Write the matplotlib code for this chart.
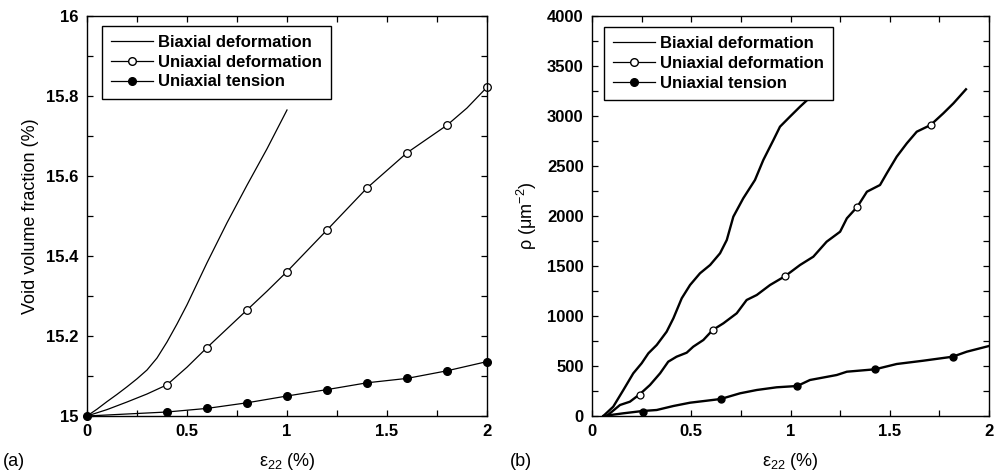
import matplotlib
matplotlib.use("Agg")
import matplotlib.pyplot as plt
from matplotlib.ticker import MultipleLocator
from matplotlib.lines import Line2D

plt.rcParams['font.family'] = ['Liberation Sans', 'DejaVu Sans']
plt.rcParams['mathtext.fontset'] = 'custom'
plt.rcParams['mathtext.rm'] = 'Liberation Sans'
plt.rcParams['mathtext.it'] = 'Liberation Sans:italic'

# ---------- panel (a) data ----------
a_bi_x = [0, 0.05, 0.1, 0.15, 0.2, 0.25, 0.3, 0.35, 0.4, 0.45, 0.5, 0.6, 0.7, 0.8, 0.9, 1.0]
a_bi_y = [15.0, 15.017, 15.036, 15.054, 15.073, 15.093, 15.115, 15.145, 15.185, 15.23, 15.278,
          15.383, 15.483, 15.577, 15.668, 15.765]

a_ud_x = [0, 0.1, 0.2, 0.3, 0.4, 0.5, 0.6, 0.7, 0.8, 0.9, 1.0, 1.2, 1.4, 1.6, 1.8, 1.9, 2.0]
a_ud_y = [15.0, 15.016, 15.035, 15.055, 15.078, 15.122, 15.171, 15.218, 15.265, 15.312, 15.361,
          15.465, 15.57, 15.658, 15.727, 15.77, 15.822]
a_ud_mx = [0.4, 0.6, 0.8, 1.0, 1.2, 1.4, 1.6, 1.8, 2.0]
a_ud_my = [15.078, 15.171, 15.265, 15.361, 15.465, 15.57, 15.658, 15.727, 15.822]

a_ut_x = [0, 0.2, 0.4, 0.6, 0.8, 1.0, 1.2, 1.4, 1.6, 1.8, 2.0]
a_ut_y = [15.0, 15.005, 15.01, 15.019, 15.033, 15.05, 15.066, 15.083, 15.094, 15.113, 15.136]
a_ut_mx = [0, 0.4, 0.6, 0.8, 1.0, 1.2, 1.4, 1.6, 1.8, 2.0]
a_ut_my = [15.0, 15.01, 15.019, 15.033, 15.05, 15.066, 15.083, 15.094, 15.113, 15.136]

# ---------- panel (b) data ----------
b_bi_x = [0.057, 0.107, 0.158, 0.208, 0.25, 0.284, 0.326, 0.376, 0.41, 0.452, 0.494, 0.544,
          0.595, 0.645, 0.679, 0.712, 0.762, 0.821, 0.863, 0.914, 0.947, 0.997, 1.048, 1.125]
b_bi_y = [0, 93, 260, 427, 527, 627, 710, 843, 977, 1177, 1310, 1427,
          1510, 1627, 1760, 1993, 2177, 2360, 2560, 2760, 2893, 2993, 3093, 3235]

b_ud_x = [0.074, 0.141, 0.191, 0.242, 0.292, 0.343, 0.384, 0.426, 0.477, 0.51, 0.561, 0.608,
          0.662, 0.729, 0.779, 0.83, 0.897, 0.974, 1.048, 1.115, 1.182, 1.25, 1.284, 1.337,
          1.385, 1.451, 1.485, 1.535, 1.586, 1.636, 1.706, 1.77, 1.821, 1.884]
b_ud_y = [0, 110, 143, 220, 310, 427, 543, 593, 633, 693, 760, 860,
          927, 1027, 1160, 1210, 1310, 1400, 1510, 1593, 1743, 1843, 1977, 2093,
          2243, 2310, 2427, 2593, 2727, 2843, 2910, 3027, 3127, 3267]
b_ud_mx = [0.242, 0.608, 0.974, 1.337, 1.706]
b_ud_my = [215, 860, 1400, 2093, 2910]

b_ut_x = [0.057, 0.158, 0.255, 0.326, 0.41, 0.494, 0.578, 0.648, 0.746, 0.83, 0.93, 1.034,
          1.098, 1.233, 1.284, 1.426, 1.535, 1.669, 1.817, 1.888, 2.0]
b_ut_y = [0, 27, 50, 60, 100, 133, 153, 170, 227, 260, 287, 300,
          360, 410, 443, 467, 520, 553, 593, 643, 700]
b_ut_mx = [0.255, 0.648, 1.034, 1.426, 1.817]
b_ut_my = [45, 170, 300, 467, 593]

labels = ["Biaxial deformation", "Uniaxial deformation", "Uniaxial tension"]
x_ticks = [0, 0.5, 1, 1.5, 2]
x_ticklabels = ['0', '0.5', '1', '1.5', '2']
a_yticks = [15, 15.2, 15.4, 15.6, 15.8, 16]
a_yticklabels = ['15', '15.2', '15.4', '15.6', '15.8', '16']

fig = plt.figure(figsize=(9.96, 4.74), dpi=100)
axa = fig.add_axes([87/996, 58/474, 400/996, 400/474])
axb = fig.add_axes([592/996, 58/474, 397/996, 400/474])

def style(ax):
    for s in ax.spines.values():
        s.set_linewidth(1.0)
    ax.tick_params(which='both', direction='in', top=True, right=True,
                   length=4.5, width=0.9, pad=6)
    for lab in ax.get_xticklabels() + ax.get_yticklabels():
        lab.set_fontweight('bold')
        lab.set_fontsize(12)

# panel (a)
lw_a = 0.9
ms_a = 5.5
axa.plot(a_bi_x, a_bi_y, color='black', lw=lw_a)
axa.plot(a_ud_x, a_ud_y, color='black', lw=lw_a)
axa.plot(a_ud_mx, a_ud_my, ls='none', marker='o', ms=ms_a, mfc='white', mec='black', mew=0.9, clip_on=False)
axa.plot(a_ut_x, a_ut_y, color='black', lw=lw_a)
axa.plot(a_ut_mx, a_ut_my, ls='none', marker='o', ms=ms_a, mfc='black', mec='black', clip_on=False)
axa.set_xlim(0, 2)
axa.set_ylim(15, 16)
axa.xaxis.set_minor_locator(MultipleLocator(0.25))
axa.yaxis.set_minor_locator(MultipleLocator(0.1))
axa.set_xticks(x_ticks)
axa.set_xticklabels(x_ticklabels)
axa.set_yticks(a_yticks)
axa.set_yticklabels(a_yticklabels)
style(axa)
axa.set_ylabel("Void volume fraction (%)", fontsize=13, labelpad=5)

# panel (b)
lw_b = 1.7
ms_b = 5.0
axb.plot(b_bi_x, b_bi_y, color='black', lw=lw_b)
axb.plot(b_ud_x, b_ud_y, color='black', lw=lw_b)
axb.plot(b_ud_mx, b_ud_my, ls='none', marker='o', ms=ms_b, mfc='white', mec='black', mew=0.9)
axb.plot(b_ut_x, b_ut_y, color='black', lw=lw_b)
axb.plot(b_ut_mx, b_ut_my, ls='none', marker='o', ms=ms_b, mfc='black', mec='black')
axb.set_xlim(0, 2)
axb.set_ylim(0, 4000)
axb.xaxis.set_minor_locator(MultipleLocator(0.25))
axb.yaxis.set_major_locator(MultipleLocator(500))
axb.yaxis.set_minor_locator(MultipleLocator(250))
axb.set_xticks(x_ticks)
axb.set_xticklabels(x_ticklabels)
style(axb)
axb.set_ylabel("ρ (μm$^{-2}$)", fontsize=13, labelpad=6)

# legends
def handles(lw, ms):
    return [Line2D([], [], color='black', lw=lw),
            Line2D([], [], color='black', lw=lw, marker='o', ms=ms, mfc='white', mec='black'),
            Line2D([], [], color='black', lw=lw, marker='o', ms=ms, mfc='black', mec='black')]

for ax, bbox in [(axa, (102, 26)), (axb, (604, 27))]:
    x0, y0 = bbox
    leg = ax.legend(handles(0.9, 5.5), labels, loc='upper left',
                    bbox_to_anchor=(x0/996, 1 - y0/474), bbox_transform=fig.transFigure,
                    prop={'weight': 'bold', 'size': 12}, frameon=True, fancybox=False,
                    edgecolor='black', framealpha=1, borderpad=0.55, labelspacing=0.28,
                    handlelength=2.5, handletextpad=0.3, borderaxespad=0)
    leg.get_frame().set_linewidth(1.0)

# x labels and panel tags
fig.text(287/996, 1 - 462/474, "ε$_{22}$ (%)", ha='center', va='center', fontsize=13)
fig.text(790/996, 1 - 462/474, "ε$_{22}$ (%)", ha='center', va='center', fontsize=13)
fig.text(3/996, 1 - 462/474, "(a)", ha='left', va='center', fontsize=13)
fig.text(510/996, 1 - 462/474, "(b)", ha='left', va='center', fontsize=13)

fig.savefig("out.png", dpi=100)
